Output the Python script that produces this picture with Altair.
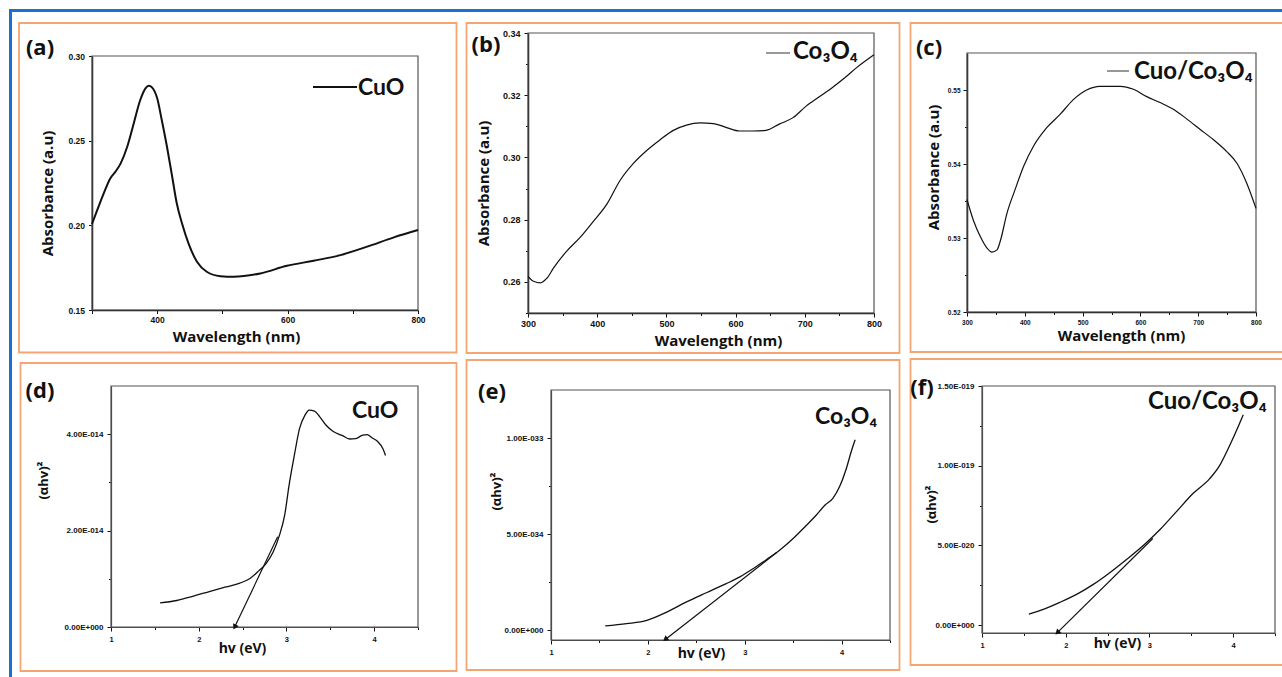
import altair as alt
import pandas as pd

# ---------------- data ----------------
A_NM = [300, 308, 318, 328, 336, 344, 354, 364, 374, 382, 387, 392, 400, 407, 415, 423, 430, 438, 448,
        461, 476, 497, 517, 558, 599, 640, 681, 722, 763, 800]
A_ABS = [0.2008, 0.2090, 0.2189, 0.2277, 0.2317, 0.2366, 0.2464, 0.2602, 0.2740, 0.2809, 0.2825, 0.2815,
         0.2750, 0.2622, 0.2464, 0.2287, 0.2130, 0.2012, 0.1893, 0.1785, 0.1726, 0.1700, 0.1697, 0.1716,
         0.1761, 0.1791, 0.1824, 0.1874, 0.1929, 0.1972]

B_NM = [300, 308, 318, 327, 337, 356, 375, 395, 414, 433, 452, 472, 491, 510, 529, 548, 568, 587, 606,
        625, 644, 663, 683, 702, 721, 740, 760, 774, 800]
B_ABS = [0.2618, 0.2602, 0.2597, 0.2611, 0.2645, 0.2699, 0.2742, 0.2796, 0.2850, 0.2926, 0.2980, 0.3023,
         0.3057, 0.3087, 0.3104, 0.3111, 0.3109, 0.3096, 0.3085, 0.3085, 0.3087, 0.3107, 0.3128, 0.3165,
         0.3195, 0.3225, 0.3260, 0.3287, 0.3330]

C_NM = [300, 311, 323, 335, 343, 352, 358, 369, 383, 398, 415, 438, 461, 484, 507, 530, 565, 588, 611,
        634, 657, 680, 703, 726, 749, 767, 784, 800]
C_ABS = [0.5352, 0.5324, 0.5302, 0.5286, 0.5281, 0.5284, 0.5297, 0.5333, 0.5365, 0.5397, 0.5424, 0.5449,
         0.5467, 0.5487, 0.5500, 0.5505, 0.5505, 0.5501, 0.5491, 0.5483, 0.5474, 0.5461, 0.5447, 0.5433,
         0.5417, 0.5401, 0.5374, 0.5340]

# (alpha h v)^2 values, in units of 1E-14
D_EV = [1.56, 1.75, 1.94, 2.13, 2.31, 2.47, 2.58, 2.67, 2.77, 2.85, 2.92, 2.98, 3.03, 3.09, 3.15, 3.21,
        3.26, 3.32, 3.38, 3.45, 3.53, 3.64, 3.72, 3.79, 3.87, 3.92, 3.98, 4.04, 4.10, 4.13]
D_Y = [0.50, 0.55, 0.64, 0.74, 0.83, 0.91, 1.00, 1.14, 1.32, 1.56, 1.90, 2.32, 2.94, 3.56, 4.12, 4.39,
       4.50, 4.48, 4.36, 4.19, 4.06, 3.97, 3.90, 3.91, 3.98, 3.99, 3.92, 3.85, 3.70, 3.56]
D_TAN_EV = [2.41, 2.90]
D_TAN_Y = [0.0, 1.87]

# units of 1E-34
E_EV = [1.56, 1.78, 1.99, 2.20, 2.40, 2.61, 2.81, 2.95, 3.09, 3.23, 3.36, 3.50, 3.64, 3.74, 3.83, 3.91,
        3.98, 4.05, 4.10, 4.14]
E_Y = [0.23, 0.35, 0.52, 0.96, 1.48, 1.97, 2.43, 2.78, 3.22, 3.70, 4.17, 4.78, 5.48, 6.00, 6.52, 6.87,
       7.48, 8.43, 9.30, 9.91]
E_TAN_EV = [2.18, 3.33]
E_TAN_Y = [-0.47, 4.05]

# units of 1E-20
F_EV = [1.56, 1.74, 1.93, 2.13, 2.33, 2.53, 2.73, 2.93, 3.13, 3.32, 3.52, 3.72, 3.84, 3.94, 4.04, 4.12]
F_Y = [0.69, 1.00, 1.42, 1.92, 2.55, 3.30, 4.13, 5.01, 6.01, 7.10, 8.25, 9.19, 10.02, 11.06, 12.21, 13.19]
F_TAN_EV = [1.90, 3.04]
F_TAN_Y = [-0.48, 5.43]

# tick values and labels
A_XT = [300, 400, 500, 600, 700, 800]
A_XL = [400, 600, 800]
A_YT = [0.15, 0.20, 0.25, 0.30]
B_XT = [300, 350, 400, 450, 500, 550, 600, 650, 700, 750, 800]
B_XL = [300, 400, 500, 600, 700, 800]
B_YT = [0.25, 0.26, 0.27, 0.28, 0.29, 0.30, 0.31, 0.32, 0.33, 0.34]
B_YL = [0.26, 0.28, 0.30, 0.32, 0.34]
C_YT = [0.52, 0.525, 0.53, 0.535, 0.54, 0.545, 0.55]
C_YL = [0.52, 0.53, 0.54, 0.55]
EV_XT = [1, 1.5, 2, 2.5, 3, 3.5, 4, 4.5]
EV_XL = [1, 2, 3, 4]
D_YT = [0, 1, 2, 3, 4]
D_YL = [0, 2, 4]
D_YTXT = ["0.00E+000", "2.00E-014", "4.00E-014"]
E_YT = [0, 2.5, 5, 7.5, 10]
E_YL = [0, 5, 10]
E_YTXT = ["0.00E+000", "5.00E-034", "1.00E-033"]
F_YT = [0, 2.5, 5, 7.5, 10, 12.5, 15]
F_YL = [0, 5, 10, 15]
F_YTXT = ["0.00E+000", "5.00E-020", "1.00E-019", "1.50E-019"]

# ---------------- styling / layout ----------------
CW, CH = 1282, 677
BLUE = "#1d6fd0"
ORANGE = "#f5a571"
INK = "#111111"
TFONT = "Open Sans"
NFONT = "Lato"
LFONT = "Liberation Sans"
ONE = alt.Data(values=[{"k": 0}])


def lst(v):
    return "[" + ",".join(repr(x) for x in v) + "]"


def fmt_expr(labeled, fmt):
    return f"indexof({lst(labeled)}, datum.value) >= 0 ? format(datum.value, '{fmt}') : ''"


def map_expr(vals, texts):
    s = "''"
    for v, t in reversed(list(zip(vals, texts))):
        s = f"datum.value == {v} ? '{t}' : {s}"
    return s


def tick_cond(labeled, big, small):
    return {"condition": {"test": f"indexof({lst(labeled)}, datum.value) >= 0", "value": big}, "value": small}


def rect(x1, y1, x2, y2, **kw):
    return alt.Chart(ONE).mark_rect(**kw).encode(
        x=alt.value(x1), x2=alt.value(x2), y=alt.value(y1), y2=alt.value(y2))


def rule(x1, x2, y, **kw):
    return alt.Chart(ONE).mark_rule(**kw).encode(x=alt.value(x1), x2=alt.value(x2), y=alt.value(y))


def text(x, y, s, size, align="left", font=NFONT):
    return alt.Chart(ONE).mark_text(
        text=s, font=font, fontSize=size, fontWeight="bold", color=INK,
        align=align, baseline="middle").encode(x=alt.value(x), y=alt.value(y))


def axis_x(P, values, label_expr, lsize, title, tsize, tcx, tcy, tick, dom_color, dom_w, lpad=4):
    return alt.Axis(
        orient="bottom", offset=P["B"] - CH,
        values=values, labelExpr=label_expr, labelFont=LFONT, labelFontWeight="bold",
        labelFontSize=lsize, labelColor=INK, labelFlush=False, labelOverlap=False, labelPadding=lpad,
        tickSize=tick, tickColor=INK, tickWidth=1, domainColor=dom_color, domainWidth=dom_w,
        grid=False, title=title, titleFont=TFONT, titleFontSize=tsize, titleFontWeight="bold",
        titleColor=INK, titleX=tcx, titleY=tcy - P["B"], titleAlign="center", titleBaseline="middle")


def axis_y(P, values, label_expr, lsize, title, tsize, tcx, tcy, tick, dom_color, dom_w, lpad=4):
    return alt.Axis(
        orient="left", offset=-P["L"],
        values=values, labelExpr=label_expr, labelFont=LFONT, labelFontWeight="bold",
        labelFontSize=lsize, labelColor=INK, labelFlush=False, labelOverlap=False, labelPadding=lpad,
        tickSize=tick, tickColor=INK, tickWidth=1, domainColor=dom_color, domainWidth=dom_w,
        grid=False, title=title, titleFont=TFONT, titleFontSize=tsize, titleFontWeight="bold",
        titleColor=INK, titleX=tcx - P["L"], titleY=tcy, titleAlign="center", titleBaseline="middle")


def panel(P, xs, ys, xaxis, yaxis, lw, tan=None):
    df = pd.DataFrame({"x": xs, "y": ys})
    xs_ = alt.Scale(domain=P["xdom"], range=[P["L"], P["R"]], zero=False, nice=False)
    ys_ = alt.Scale(domain=P["ydom"], range=[P["B"], P["T"]], zero=False, nice=False)
    X = alt.X("x:Q", scale=xs_, axis=xaxis)
    Y = alt.Y("y:Q", scale=ys_, axis=yaxis)
    layers = [alt.Chart(df).mark_line(color=INK, strokeWidth=lw, interpolate="monotone").encode(x=X, y=Y)]
    if tan is not None:
        tx, ty, ang = tan
        tdf = pd.DataFrame({"x": tx, "y": ty})
        layers.append(alt.Chart(tdf).mark_line(color=INK, strokeWidth=1.2).encode(x=X, y=Y))
        layers.append(alt.Chart(tdf.iloc[:1]).mark_point(
            shape="triangle-down", filled=True, size=40, angle=ang, color=INK, opacity=1).encode(x=X, y=Y))
    return alt.layer(*layers)


def decor(P):
    x1, y1, x2, y2 = P["frame"]
    return [rect(x1, y1, x2, y2, fillOpacity=0, stroke=ORANGE, strokeWidth=1.8),
            rect(P["L"], P["T"], P["R"], P["B"], fillOpacity=0, stroke="#555555", strokeWidth=1.2)]


# ---------------- panels (positions in page pixels) ----------------
PA = dict(L=92, T=56, R=418, B=310, xdom=[300, 800], ydom=[0.15, 0.30], frame=(19, 23, 456.5, 352.5))
PB = dict(L=528, T=33, R=874, B=313, xdom=[300, 800], ydom=[0.25, 0.34], frame=(466.5, 23, 899.5, 353))
PC = dict(L=967, T=53, R=1256, B=312, xdom=[300, 800], ydom=[0.52, 0.555], frame=(910.5, 23, 1290, 352))
PD = dict(L=111, T=386, R=418, B=627, xdom=[1, 4.5], ydom=[0, 5], frame=(20.5, 363, 456.5, 671))
PE = dict(L=551, T=390, R=890, B=640, xdom=[1, 4.5], ydom=[-0.5, 12.5], frame=(466.5, 360, 899.5, 670))
PF = dict(L=982, T=386, R=1275, B=633, xdom=[1, 4.5], ydom=[-0.5, 15], frame=(910.5, 359, 1290, 665))

WL = "Wavelength (nm)"
AB = "Absorbance (a.u)"
HV = "hv (eV)"
AH = "(\u03b1hv)\u00b2"

pa = panel(PA, A_NM, A_ABS,
           axis_x(PA, A_XT, fmt_expr(A_XL, "d"), 8.5, WL, 15, 236, 336, 3.5, INK, 1.5, 2),
           axis_y(PA, A_YT, fmt_expr(A_YT, ".2f"), 8.5, AB, 15, 47.5, 193, 3.5, INK, 1.5),
           2.0)
pb = panel(PB, B_NM, B_ABS,
           axis_x(PB, B_XT, fmt_expr(B_XL, "d"), 9, WL, 15, 718, 340, tick_cond(B_XL, 4, 2.5), INK, 1.5, 2),
           axis_y(PB, B_YT, fmt_expr(B_YL, ".2f"), 9, AB, 15, 483, 183, tick_cond(B_YL, 4, 2.5), INK, 1.5),
           1.2)
pc = panel(PC, C_NM, C_ABS,
           axis_x(PC, B_XT, fmt_expr(B_XL, "d"), 6.5, WL, 15, 1121, 335, tick_cond(B_XL, 4, 2.5), INK, 1.5, 3),
           axis_y(PC, C_YT, fmt_expr(C_YL, ".2f"), 6.5, AB, 15, 933, 167, tick_cond(C_YL, 4, 2.5), INK, 1.5, 3),
           1.2)
pd_ = panel(PD, D_EV, D_Y,
            axis_x(PD, EV_XT, fmt_expr(EV_XL, "d"), 7.5, HV, 14, 242, 648, tick_cond(EV_XL, 4, 2.5), "#444444", 1.2),
            axis_y(PD, D_YT, map_expr(D_YL, D_YTXT), 8, AH, 13, 43.5, 480, tick_cond(D_YL, 4, 2.5), "#444444", 1.2),
            1.3, tan=(D_TAN_EV, D_TAN_Y, 26))
pe = panel(PE, E_EV, E_Y,
           axis_x(PE, EV_XT, fmt_expr(EV_XL, "d"), 7.5, HV, 14, 701, 653, tick_cond(EV_XL, 4, 2.5), "#444444", 1.2),
           axis_y(PE, E_YT, map_expr(E_YL, E_YTXT), 8, AH, 13, 496, 491, tick_cond(E_YL, 4, 2.5), "#444444", 1.2),
           1.3, tan=(E_TAN_EV, E_TAN_Y, 52))
pf = panel(PF, F_EV, F_Y,
           axis_x(PF, EV_XT, fmt_expr(EV_XL, "d"), 7.5, HV, 14, 1117, 643, tick_cond(EV_XL, 4, 2.5), "#444444", 1.2),
           axis_y(PF, F_YT, map_expr(F_YL, F_YTXT), 8, AH, 13, 931, 504, tick_cond(F_YL, 4, 2.5), "#444444", 1.2),
           1.3, tan=(F_TAN_EV, F_TAN_Y, 45))

deco = [rect(9, 9, CW + 5, 12, fill=BLUE), rect(9, 9, 12, CH + 5, fill=BLUE)]
for P in (PA, PB, PC, PD, PE, PF):
    deco += decor(P)

labels = [
    text(40, 48, "(a)", 22, "center", TFONT),
    rule(313, 357, 87, color=INK, strokeWidth=2),
    text(358, 88, "CuO", 23),
    text(486, 45, "(b)", 22, "center", TFONT),
    rule(766, 790, 53, color="#333333", strokeWidth=1),
    text(793, 52, "Co\u2083O\u2084", 24),
    text(929, 48, "(c)", 22, "center", TFONT),
    rule(1107, 1129, 71, color="#333333", strokeWidth=1),
    text(1134, 72, "Cuo/Co\u2083O\u2084", 24),
    text(40, 391, "(d)", 22, "center", TFONT),
    text(352, 411, "CuO", 23),
    text(492, 392, "(e)", 22, "center", TFONT),
    text(815, 417, "Co\u2083O\u2084", 23),
    text(922, 388, "(f)", 22, "center", TFONT),
    text(1148, 402, "Cuo/Co\u2083O\u2084", 24),
]

chart = alt.layer(*deco, pa, pb, pc, pd_, pe, pf, *labels).resolve_scale(
    x="independent", y="independent"
).properties(
    width=CW, height=CH,
    padding=0,
    autosize=alt.AutoSizeParams(type="none"),
    background="white",
).configure_view(strokeWidth=0)

chart.save("out.html", embed_options={"renderer": "svg", "actions": False})
